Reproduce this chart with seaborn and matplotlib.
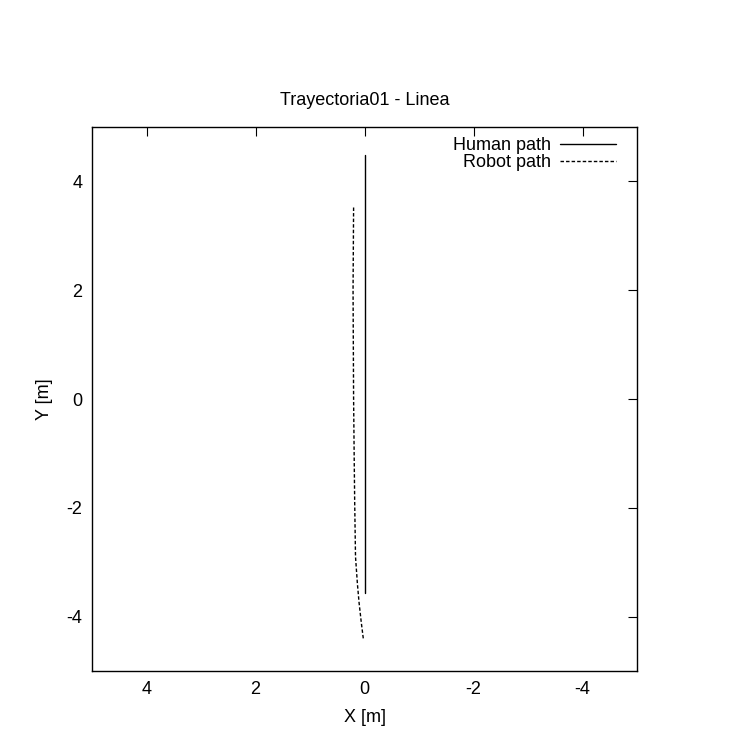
import matplotlib
matplotlib.use("Agg")
import matplotlib.pyplot as plt
import seaborn as sns
import pandas as pd

# Trajectory samples (metres)
human_x = [0.0, 0.0, 0.0, 0.0, 0.0]
human_y = [4.48, 2.0, 0.0, -2.0, -3.56]

robot_x = [0.20, 0.21, 0.20, 0.19, 0.18, 0.165, 0.13, 0.10, 0.06, 0.02]
robot_y = [3.52, 2.0, 0.0, -1.0, -1.9, -2.9, -3.4, -3.74, -4.1, -4.42]

x_ticks = [4, 2, 0, -2, -4]
y_ticks = [-4, -2, 0, 2, 4]

FS = 13

sns.set_style("white")
plt.rcParams["font.family"] = ["Liberation Sans", "DejaVu Sans"]
plt.rcParams["font.size"] = FS
plt.rcParams["axes.unicode_minus"] = False
plt.rcParams["text.color"] = "black"
plt.rcParams["axes.labelcolor"] = "black"

fig = plt.figure(figsize=(7.34, 7.38), dpi=100)
ax = fig.add_axes([92 / 734, 1 - 671 / 738, (637 - 92) / 734, (671 - 127) / 738])

human = pd.DataFrame({"x": human_x, "y": human_y})
robot = pd.DataFrame({"x": robot_x, "y": robot_y})

sns.lineplot(data=human, x="x", y="y", sort=False, estimator=None, ax=ax,
             color="black", linewidth=1.0, label="Human path")
sns.lineplot(data=robot, x="x", y="y", sort=False, estimator=None, ax=ax,
             color="black", linewidth=1.0, linestyle=(0, (2.5, 1.5)),
             label="Robot path")

ax.set_xlim(5, -5)
ax.set_ylim(-5, 5)
ax.set_xticks(x_ticks)
ax.set_yticks(y_ticks)
ax.set_xticklabels([str(v) for v in x_ticks])
ax.set_yticklabels([str(v) for v in y_ticks])
ax.tick_params(direction="in", length=6.5, width=0.8, top=True, right=True,
               labelsize=FS, pad=7, colors="black")
for s in ax.spines.values():
    s.set_visible(True)
    s.set_color("black")
    s.set_linewidth(1.0)

ax.set_title("Trayectoria01 - Linea", fontsize=FS, pad=16, color="black")
ax.set_xlabel("X [m]", fontsize=FS, labelpad=8)
ax.set_ylabel("Y [m]", fontsize=FS, labelpad=10)

leg = ax.legend(loc="upper right", bbox_to_anchor=(0.974, 0.994),
                frameon=False, markerfirst=False, fontsize=FS,
                handlelength=3.1, handletextpad=0.5,
                labelspacing=0.0, borderaxespad=0.0)
for t in leg.get_texts():
    t.set_ha("right")

fig.savefig("out.png", dpi=100, facecolor="white")
